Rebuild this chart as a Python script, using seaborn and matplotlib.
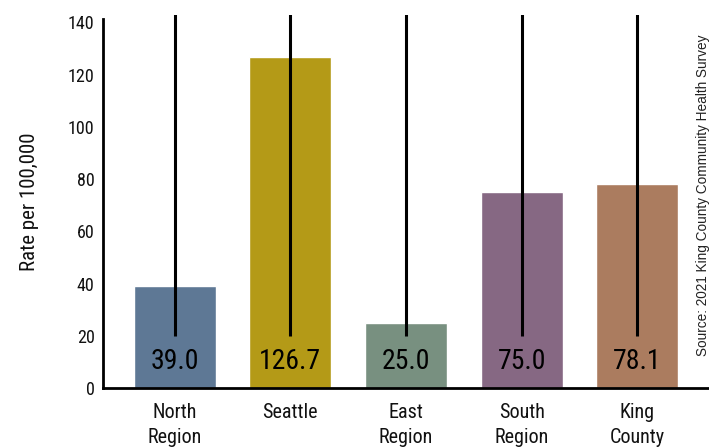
import matplotlib
matplotlib.use("Agg")
import matplotlib.pyplot as plt
import seaborn as sns
import pandas as pd

# data
regions = ["North\nRegion", "Seattle", "East\nRegion", "South\nRegion", "King\nCounty"]
rates = [39.0, 126.7, 25.0, 75.0, 78.1]
ci_low = [20.0, 20.0, 20.0, 20.0, 20.0]
ci_high = [160.0, 160.0, 160.0, 160.0, 160.0]   # runs off the top of the chart
colors = ["#5E7895", "#B49A17", "#789080", "#866883", "#AB7C5F"]

sns.set_style("white")
plt.rcParams["font.family"] = ["Roboto Condensed", "DejaVu Sans"]

df = pd.DataFrame({"region": regions, "rate": rates})

fig = plt.figure(figsize=(7.09, 4.47), dpi=100)
ax = fig.add_axes([103 / 709, 1 - 388 / 447, 1 - 103 / 709, (388 - 15) / 447])

sns.barplot(data=df, x="region", y="rate", hue="region", palette=colors,
            width=0.71, saturation=1, legend=False, ax=ax)

# confidence interval lines
ax.vlines(range(len(regions)), ci_low, ci_high, color="black", lw=2.2, zorder=3)

# value labels near the bar bottoms
for i, v in enumerate(rates):
    ax.text(i, 10, f"{v:.1f}", ha="center", va="center", fontsize=20,
            color="black", zorder=4)

ax.set_ylim(0, 142.8)
ax.set_xlim(-0.62, 4.62)
ax.set_yticks(range(0, 141, 20))
ax.tick_params(axis="y", labelsize=13, length=0, pad=6, labelcolor="#111111")
ax.tick_params(axis="x", labelsize=14.5, length=0, pad=11, labelcolor="#111111")
for lab in ax.get_xticklabels():
    lab.set_linespacing(1.4)
ax.set_xlabel("")
ax.set_ylabel("Rate per 100,000", fontsize=15, labelpad=21, color="#111111")

for s in ["top", "right"]:
    ax.spines[s].set_visible(False)
ax.spines["left"].set_bounds(0, 141.3)
for s in ["left", "bottom"]:
    ax.spines[s].set_linewidth(2)
    ax.spines[s].set_color("black")

fig.text(0.991, 1 - 356 / 447, "Source: 2021 King County Community Health Survey",
         rotation=90, ha="center", va="bottom", fontsize=9.8, color="#222222",
         family=["Liberation Sans", "DejaVu Sans"])

fig.savefig("out.png", dpi=100)
